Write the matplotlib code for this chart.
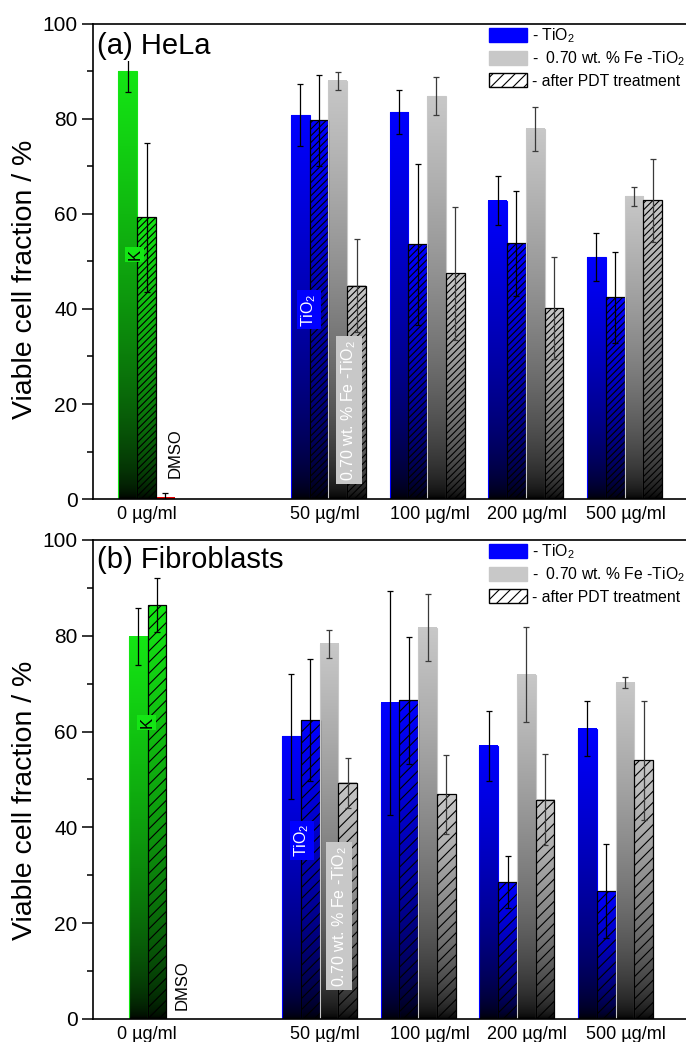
import numpy as np
import matplotlib
matplotlib.use('Agg')
import matplotlib.pyplot as plt
from matplotlib.patches import Patch
from matplotlib.colors import to_rgb
from matplotlib.ticker import MultipleLocator

plt.rcParams['font.family'] = ['Liberation Sans', 'DejaVu Sans']
plt.rcParams['mathtext.fontset'] = 'custom'
plt.rcParams['mathtext.rm'] = 'Liberation Sans'
plt.rcParams['mathtext.it'] = 'Liberation Sans:italic'
plt.rcParams['mathtext.bf'] = 'Liberation Sans:bold'
plt.rcParams['hatch.linewidth'] = 0.8

# ---------------- data ----------------
concentrations = ['0 µg/ml', '50 µg/ml', '100 µg/ml', '200 µg/ml', '500 µg/ml']
control_names = ['K', 'K after PDT', 'DMSO']

# (a) HeLa
hela_ctrl = [90.0, 59.3, 0.5]
hela_ctrl_err = [4.4, 15.7, 0.8]
hela_tio2 = [80.8, 81.4, 62.8, 50.9]
hela_tio2_err = [6.5, 4.6, 5.2, 5.1]
hela_tio2_pdt = [79.7, 53.6, 53.8, 42.5]
hela_tio2_pdt_err = [9.6, 16.9, 11.0, 9.6]
hela_fe = [88.0, 84.8, 77.9, 63.7]
hela_fe_err = [1.9, 4.0, 4.7, 2.0]
hela_fe_pdt = [44.9, 47.5, 40.2, 62.9]
hela_fe_pdt_err = [9.8, 14.0, 10.8, 8.7]

# (b) Fibroblasts
fib_ctrl = [79.8, 86.4, 0.0]
fib_ctrl_err = [5.9, 5.7, 0.0]
fib_tio2 = [59.0, 66.0, 57.0, 60.6]
fib_tio2_err = [13.1, 23.4, 7.3, 5.8]
fib_tio2_pdt = [62.4, 66.5, 28.6, 26.7]
fib_tio2_pdt_err = [12.8, 13.3, 5.4, 9.9]
fib_fe = [78.3, 81.7, 71.9, 70.2]
fib_fe_err = [3.0, 7.0, 10.0, 1.15]
fib_fe_pdt = [49.3, 46.9, 45.8, 54.0]
fib_fe_pdt_err = [5.2, 8.3, 9.5, 12.4]

legend_labels = ['- TiO$_2$', '-  0.70 wt. % Fe -TiO$_2$', '- after PDT treatment']
y_label = 'Viable cell fraction / %'

# ---------------- styling ----------------
GREEN = '#14e614'
BLUE = '#0000ff'
GRAY = '#c8c8c8'
RED = '#e60000'
W = 0.19

fig = plt.figure(figsize=(6.86, 10.42), dpi=100)


def grad_bar(ax, x, h, color, hatch=None, z=2):
    if h <= 0:
        return
    n = 256
    f = np.linspace(0, 1, n)[:, None]
    rgb = np.array(to_rgb(color))[None, :] * (f ** 0.55)
    img = rgb[:, None, :]
    ax.imshow(img, extent=(x - W / 2, x + W / 2, 0, h), origin='lower',
              aspect='auto', interpolation='bilinear', zorder=z)
    if hatch:
        ax.bar(x, h, W, facecolor='none', edgecolor='black', hatch=hatch,
               lw=0.9, zorder=z + 0.1)
    else:
        ax.bar(x, h, W, facecolor='none', edgecolor=color, lw=0.8,
               zorder=z + 0.1)


def err(ax, x, h, e, color='black'):
    if e <= 0:
        return
    ax.errorbar(x, h, yerr=e, fmt='none', ecolor=color, elinewidth=0.9,
                capsize=2.3, capthick=0.9, zorder=4)


panels = [
    dict(rect=[0.1356, 0.5211, 0.8644, 0.4559], title='(a) HeLa', title_y=0.983,
         ctrl=hela_ctrl, ctrl_err=hela_ctrl_err,
         series=[(hela_tio2, hela_tio2_err), (hela_tio2_pdt, hela_tio2_pdt_err),
                 (hela_fe, hela_fe_err), (hela_fe_pdt, hela_fe_pdt_err)],
         ctrl_center=-0.843, group_shift=0.0, hatch='/////',
         K=(-0.96, 51.4), T=(0.80, 39.8), F=(1.21, 18.7), D=(-0.55, 9.7),
         ylab_y=1 - 279 / 1042),
    dict(rect=[0.1356, 0.0221, 0.8644, 0.4597], title='(b) Fibroblasts', title_y=0.988,
         ctrl=fib_ctrl, ctrl_err=fib_ctrl_err,
         series=[(fib_tio2, fib_tio2_err), (fib_tio2_pdt, fib_tio2_pdt_err),
                 (fib_fe, fib_fe_err), (fib_fe_pdt, fib_fe_pdt_err)],
         ctrl_center=-0.737, group_shift=-0.09, hatch='///',
         K=(-0.84, 61.9), T=(0.73, 37.3), F=(1.11, 21.5), D=(-0.48, 7.1),
         ylab_y=1 - 800 / 1042),
]

tick_pos = [-0.84, 0.96, 2.03, 3.01, 4.01]
group_centers = [1.0, 2.0, 3.0, 4.0]

for p in panels:
    ax = fig.add_axes(p['rect'])
    # control group
    ctrl_colors = [GREEN, GREEN, RED]
    ctrl_hatch = [None, p['hatch'], None]
    for i, (v, e) in enumerate(zip(p['ctrl'], p['ctrl_err'])):
        x = p['ctrl_center'] + (i - 1) * W
        if i == 2:
            if v > 0:
                ax.bar(x, v, W, color=RED, lw=0, zorder=2)
        else:
            grad_bar(ax, x, v, ctrl_colors[i], ctrl_hatch[i])
        err(ax, x, v, e)
    # treated groups
    colors = [BLUE, BLUE, GRAY, GRAY]
    hatches = [None, p['hatch'], None, p['hatch']]
    ecols = ['black', 'black', '#3a3a3a', '#3a3a3a']
    for j, (vals, errs) in enumerate(p['series']):
        for k, (v, e) in enumerate(zip(vals, errs)):
            x = group_centers[k] + p['group_shift'] + (j - 1.5) * W
            grad_bar(ax, x, v, colors[j], hatches[j])
            err(ax, x, v, e, ecols[j])

    ax.set_xlim(-1.385, 4.623)
    ax.set_ylim(0, 100)
    ax.set_aspect('auto')
    ax.set_xticks(tick_pos)
    ax.set_xticklabels(concentrations, fontsize=13)
    ax.tick_params(axis='x', length=0, pad=5)
    ax.set_yticks([0, 20, 40, 60, 80, 100])
    ax.yaxis.set_minor_locator(MultipleLocator(10))
    ax.tick_params(axis='y', which='major', direction='out', length=8, width=1.1,
                   labelsize=15, pad=3)
    ax.tick_params(axis='y', which='minor', direction='out', length=4.5, width=1.1)
    for s in ['left', 'bottom', 'top']:
        ax.spines[s].set_linewidth(1.2)
    ax.spines['right'].set_visible(False)

    fig.text(25 / 686, p['ylab_y'], y_label, rotation=90, ha='center', va='center',
             fontsize=20.5)

    ax.text(0.0067, p['title_y'], p['title'], transform=ax.transAxes, fontsize=21,
            ha='left', va='top', zorder=6,
            bbox=dict(facecolor='white', edgecolor='none', pad=0.5))

    # in-bar labels
    ax.text(*p['K'], 'K', rotation=90, ha='center', va='center', fontsize=12,
            color='black', zorder=6,
            bbox=dict(facecolor=GREEN, edgecolor='none', pad=1.5))
    ax.text(*p['T'], 'TiO$_2$', rotation=90, ha='center', va='center', fontsize=11.5,
            color='white', zorder=6,
            bbox=dict(facecolor=BLUE, edgecolor='none', pad=2))
    ax.text(*p['F'], '0.70 wt. % Fe -TiO$_2$', rotation=90, ha='center', va='center',
            fontsize=11.5, color='white', zorder=6,
            bbox=dict(facecolor=GRAY, edgecolor='none', pad=2.5))
    ax.text(*p['D'], 'DMSO', rotation=90, ha='center', va='center', fontsize=12,
            color='black', zorder=6)

    handles = [Patch(facecolor=BLUE, edgecolor=BLUE),
               Patch(facecolor=GRAY, edgecolor=GRAY),
               Patch(facecolor='white', edgecolor='black', hatch='///')]
    ax.legend(handles, legend_labels, loc='upper left', bbox_to_anchor=(0.668, 0.995),
              frameon=False, fontsize=11.3, handlelength=2.4, handleheight=1.0,
              handletextpad=0.3, labelspacing=0.3, borderpad=0, borderaxespad=0)

fig.savefig('out.png', dpi=100)
